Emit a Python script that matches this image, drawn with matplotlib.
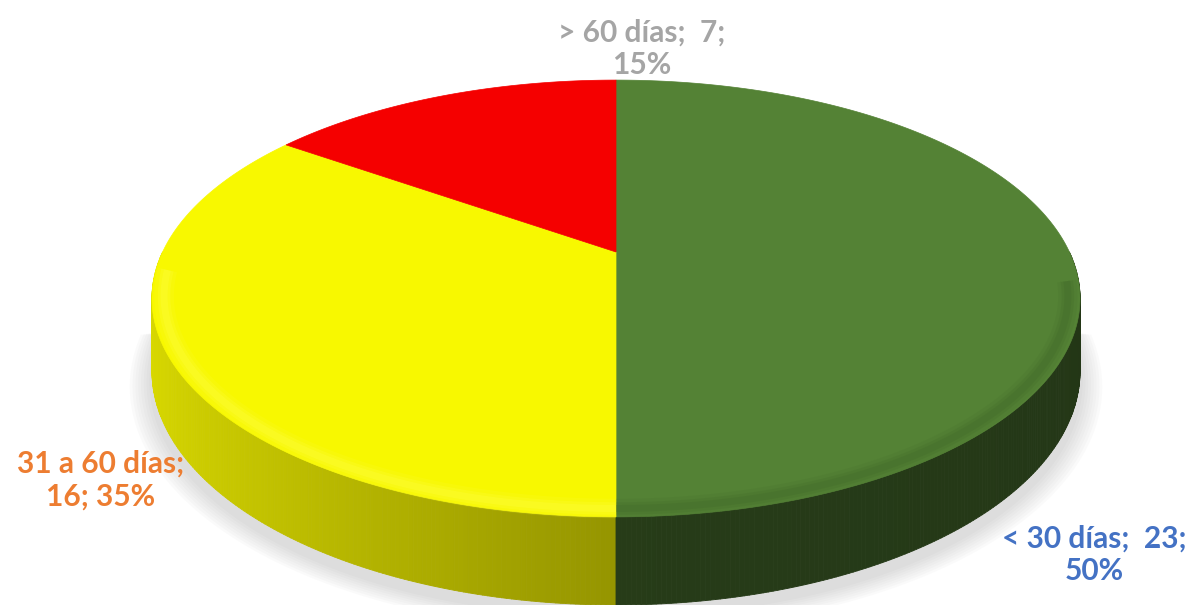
import numpy as np
import matplotlib
matplotlib.use("Agg")
import matplotlib.pyplot as plt
from matplotlib.collections import PolyCollection
from matplotlib.colors import to_rgb

# datos del grafico
categorias = ['< 30 días', '31 a 60 días', '> 60 días']
valores = [23, 16, 7]
colores = ['#548235', '#F8F800', '#F50000']
colores_texto = ['#4472C4', '#ED7D31', '#A5A5A5']

# geometria de la torta 3D (pixeles)
CX, CY = 616, 252
F, G, D = 2131, 980, 4.7
H = 326


def proj(r, t_deg, drop=0.0):
    t = np.radians(t_deg)
    u, v = r * np.cos(t), r * np.sin(t)
    d = D + v
    return CX + F * u / d, CY - G * v / d + drop * H / d


total = sum(valores)
pcts = [round(v / total * 100) for v in valores]
# angulos: empieza arriba (90) y va en sentido horario
fin = 90 - 360 * np.cumsum(valores) / total
ini = np.concatenate([[90], fin[:-1]])

fig = plt.figure(figsize=(11.92, 6.05), dpi=100)
ax = fig.add_axes([0, 0, 1, 1])
ax.set_xlim(0, 1192)
ax.set_ylim(605, 0)
ax.axis('off')

# sombra (solo la mitad de adelante)
for k in range(8):
    s = 1.0 + 0.006 * (k + 1)
    tt = np.linspace(180, 360, 200)
    xs, ys = proj(1.0, tt, 1.0)
    xs = CX + (xs - CX) * s
    ys = CY + 10 + (ys - CY) * s
    ax.fill(xs, ys, color='#888888', alpha=0.035, lw=0, zorder=1)

# lados
polys, cols = [], []
paso = 0.5
for t0 in np.arange(180, 360, paso):
    t1 = t0 + paso
    tm = (t0 + t1) / 2
    # de que rebanada es este tramo
    ang = tm - 360
    idx = 0
    for i in range(len(valores)):
        a, b = fin[i], ini[i]
        if a <= ang <= b or a <= ang + 360 <= b or a <= ang - 360 <= b:
            idx = i
    x0, y0 = proj(1.0, t0)
    x1, y1 = proj(1.0, t1)
    x2, y2 = proj(1.0, t1, 1.0)
    x3, y3 = proj(1.0, t0, 1.0)
    polys.append([(x0, y0), (x1, y1), (x2, y2), (x3, y3)])
    f = max(0.44, 0.6 - 0.28 * np.cos(np.radians(tm)))
    if idx == 0:
        f = 0.46 - 0.05 * (tm - 270) / 90
    c = np.clip(np.array(to_rgb(colores[idx])) * f, 0, 1)
    cols.append(c)
ax.add_collection(PolyCollection(polys, facecolors=cols, edgecolors=cols,
                                 linewidths=0.6, zorder=2))

# cara superior
for i in range(len(valores)):
    tt = np.linspace(ini[i], fin[i], 200)
    xs, ys = proj(1.0, tt)
    xs = np.concatenate([[CX], xs])
    ys = np.concatenate([[CY], ys])
    ax.fill(xs, ys, color=colores[i], lw=0.5, ec=colores[i], zorder=3)

# brillo del borde (suave)
for lw, al in [(14, 0.12), (9, 0.18), (5, 0.22)]:
    tt = np.linspace(185, 270, 200)
    xs, ys = proj(0.975, tt)
    ax.plot(xs, ys, color='#FFFF50', lw=lw, alpha=al, zorder=4,
            solid_capstyle='butt')
    tt = np.linspace(270, 352, 200)
    xs, ys = proj(0.975, tt)
    ax.plot(xs, ys, color='#3A5F25', lw=lw, alpha=al * 0.8, zorder=4,
            solid_capstyle='butt')

# etiquetas
textos = [
    f'{categorias[0]};  {valores[0]};\n{pcts[0]}%',
    f'{categorias[1]};\n{valores[1]}; {pcts[1]}%',
    f'{categorias[2]};  {valores[2]};\n{pcts[2]}%',
]
pos = [(1094, 555), (101, 480), (642, 49)]
for i in range(len(valores)):
    ax.text(pos[i][0], pos[i][1], textos[i], color=colores_texto[i],
            fontsize=21.5, fontweight='bold', family=['Lato', 'DejaVu Sans'],
            ha='center', va='center', linespacing=1.2, zorder=5)

fig.savefig('out.png', dpi=100)
